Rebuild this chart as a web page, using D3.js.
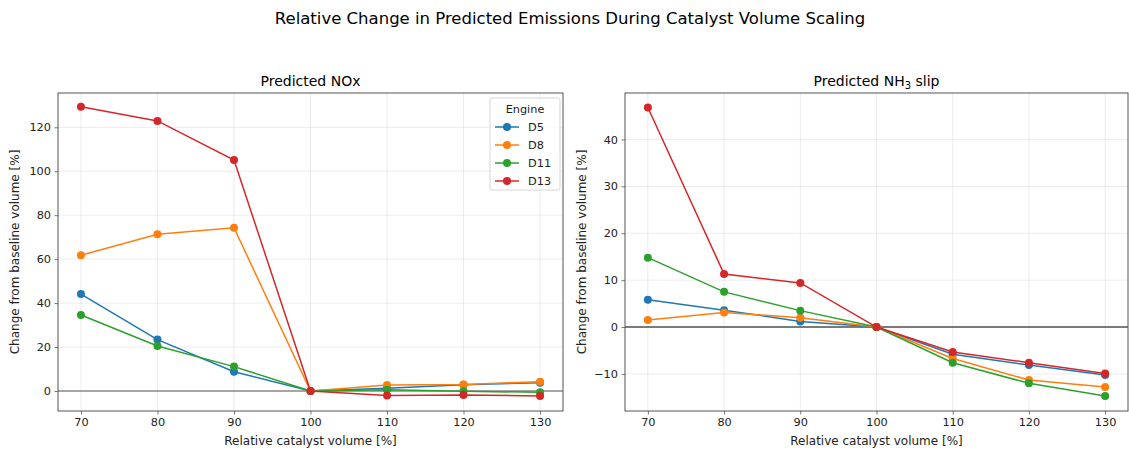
<!DOCTYPE html>
<html>
<head>
<meta charset="utf-8">
<script src="https://cdn.jsdelivr.net/npm/d3@7"></script>
<style>
  html, body { margin: 0; padding: 0; background: #fff; }
  svg { display: block; font-family: "DejaVu Sans", sans-serif; }
</style>
</head>
<body>
<svg id="chart" width="1129" height="449"></svg>
<script>
// Relative catalyst volume steps [%]
const volumes = [70, 80, 90, 100, 110, 120, 130];
const engines = ["D5", "D8", "D11", "D13"];
const engineColors = ["#1f77b4", "#ff7f0e", "#2ca02c", "#d62728"];

// Predicted NOx change from baseline [%]
const noxD5  = [44.1, 23.4, 8.8, 0, 1.2, 2.9, 3.8];
const noxD8  = [61.8, 71.3, 74.3, 0, 2.7, 3.0, 4.2];
const noxD11 = [34.6, 20.5, 11.1, 0, 0.6, -0.1, -0.6];
const noxD13 = [129.3, 122.9, 105.1, 0, -2.1, -1.8, -2.3];

// Predicted NH3 slip change from baseline [%]
const nh3D5  = [5.8, 3.6, 1.2, 0, -5.8, -8.1, -10.2];
const nh3D8  = [1.5, 3.1, 2.0, 0, -6.7, -11.3, -12.8];
const nh3D11 = [14.8, 7.5, 3.5, 0, -7.6, -12.0, -14.7];
const nh3D13 = [46.8, 11.3, 9.4, 0, -5.3, -7.6, -9.9];

const xTicks = [70, 80, 90, 100, 110, 120, 130];
const noxYTicks = [0, 20, 40, 60, 80, 100, 120];
const nh3YTicks = [-10, 0, 10, 20, 30, 40];

const svg = d3.select("#chart");

svg.append("text")
  .attr("x", 570).attr("y", 24)
  .attr("text-anchor", "middle")
  .attr("font-size", 16.5)
  .attr("fill", "#000")
  .text("Relative Change in Predicted Emissions During Catalyst Volume Scaling");

function drawPanel(opts) {
  const { left, right, top, bottom, yDomain, yTicks, series, zeroColor, legend, titleFn } = opts;
  const g = svg.append("g");
  const x = d3.scaleLinear().domain([67, 133]).range([left, right]);
  const y = d3.scaleLinear().domain(yDomain).range([bottom, top]);

  // grid
  g.append("g").selectAll("line").data(xTicks).join("line")
    .attr("x1", d => x(d)).attr("x2", d => x(d))
    .attr("y1", top).attr("y2", bottom)
    .attr("stroke", "#b0b0b0").attr("stroke-opacity", 0.3).attr("stroke-width", 0.8);
  g.append("g").selectAll("line").data(yTicks).join("line")
    .attr("x1", left).attr("x2", right)
    .attr("y1", d => y(d)).attr("y2", d => y(d))
    .attr("stroke", "#b0b0b0").attr("stroke-opacity", 0.3).attr("stroke-width", 0.8);

  // zero reference
  g.append("line")
    .attr("x1", left).attr("x2", right)
    .attr("y1", y(0)).attr("y2", y(0))
    .attr("stroke", zeroColor).attr("stroke-width", 1.1);

  // axes
  const xAxis = d3.axisBottom(x).tickValues(xTicks).tickSize(3.5).tickPadding(3.5);
  const yAxis = d3.axisLeft(y).tickValues(yTicks).tickSize(3.5).tickPadding(3.5)
    .tickFormat(d => d < 0 ? "\u2212" + Math.abs(d) : d);
  const gx = g.append("g").attr("transform", `translate(0,${bottom})`).call(xAxis);
  const gy = g.append("g").attr("transform", `translate(${left},0)`).call(yAxis);
  [gx, gy].forEach(a => {
    a.select(".domain").remove();
    a.selectAll("line").attr("stroke", "#555").attr("stroke-width", 0.8);
    a.selectAll("text").attr("font-size", 11.3).attr("fill", "#222")
      .attr("font-family", "DejaVu Sans, sans-serif");
  });

  // series
  const line = d3.line().x((d, i) => x(volumes[i])).y(d => y(d));
  series.forEach((vals, si) => {
    const c = engineColors[si];
    g.append("path").datum(vals)
      .attr("d", line).attr("fill", "none")
      .attr("stroke", c).attr("stroke-width", 1.5);
    g.append("g").selectAll("circle").data(vals).join("circle")
      .attr("cx", (d, i) => x(volumes[i])).attr("cy", d => y(d))
      .attr("r", 4).attr("fill", c);
  });

  // frame
  g.append("rect")
    .attr("x", left).attr("y", top)
    .attr("width", right - left).attr("height", bottom - top)
    .attr("fill", "none").attr("stroke", "#555").attr("stroke-width", 1);

  // labels
  g.append("text")
    .attr("x", (left + right) / 2).attr("y", bottom + 34)
    .attr("text-anchor", "middle").attr("font-size", 12).attr("fill", "#222")
    .text("Relative catalyst volume [%]");
  g.append("text")
    .attr("transform", `translate(${left - 39},${(top + bottom) / 2}) rotate(-90)`)
    .attr("text-anchor", "middle").attr("font-size", 12).attr("fill", "#222")
    .text("Change from baseline volume [%]");
  const t = g.append("text")
    .attr("x", (left + right) / 2).attr("y", top - 7)
    .attr("text-anchor", "middle").attr("font-size", 14).attr("fill", "#000");
  titleFn(t);

  if (legend) {
    const lx = right - 73, ly = top + 5, lw = 70, lh = 92;
    const lg = g.append("g");
    lg.append("rect").attr("x", lx).attr("y", ly).attr("width", lw).attr("height", lh)
      .attr("rx", 2).attr("fill", "#fff").attr("fill-opacity", 0.8)
      .attr("stroke", "#ccc").attr("stroke-width", 0.8);
    lg.append("text").attr("x", lx + lw / 2).attr("y", ly + 15)
      .attr("text-anchor", "middle").attr("font-size", 11.3).attr("fill", "#222").text("Engine");
    engines.forEach((name, i) => {
      const yy = ly + 29 + i * 18;
      lg.append("line").attr("x1", lx + 5).attr("x2", lx + 29)
        .attr("y1", yy).attr("y2", yy)
        .attr("stroke", engineColors[i]).attr("stroke-width", 1.5);
      lg.append("circle").attr("cx", lx + 17).attr("cy", yy).attr("r", 4)
        .attr("fill", engineColors[i]);
      lg.append("text").attr("x", lx + 38).attr("y", yy + 4)
        .attr("font-size", 11.3).attr("fill", "#222").text(name);
    });
  }
}

drawPanel({
  left: 58, right: 563, top: 93, bottom: 411,
  yDomain: [-9.1, 135.6], yTicks: noxYTicks,
  series: [noxD5, noxD8, noxD11, noxD13],
  zeroColor: "#555", legend: true,
  titleFn: t => t.text("Predicted NOx")
});

drawPanel({
  left: 625, right: 1128, top: 93, bottom: 411,
  yDomain: [-17.9, 49.9], yTicks: nh3YTicks,
  series: [nh3D5, nh3D8, nh3D11, nh3D13],
  zeroColor: "#000", legend: false,
  titleFn: t => {
    t.append("tspan").text("Predicted NH");
    t.append("tspan").attr("font-size", 10).attr("dy", 3).text("3");
    t.append("tspan").attr("dy", -3).text(" slip");
  }
});
</script>
</body>
</html>
